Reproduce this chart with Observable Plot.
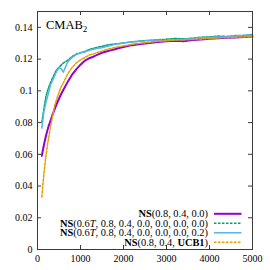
<!DOCTYPE html>
<html><head><meta charset="utf-8">
<script src="https://cdn.jsdelivr.net/npm/d3@7"></script>
<script src="https://cdn.jsdelivr.net/npm/@observablehq/plot@0.6"></script>
<style>html,body{margin:0;padding:0;background:#fff}#chart{width:270px;height:270px}</style>
</head><body><div id="chart"></div><script>
const steps = [100,150,200,250,300,350,400,450,500,550,600,700,800,900,1000,1100,1200,1300,1400,1500,1600,1700,1800,1900,2000,2200,2400,2600,2800,3000,3200,3400,3600,3800,4000,4200,4400,4600,4800,5000];
const nsBase = [0.059,0.066,0.072,0.077,0.081,0.085,0.0885,0.092,0.095,0.098,0.1005,0.1055,0.110,0.1135,0.1165,0.119,0.1205,0.1215,0.1228,0.124,0.1248,0.1255,0.1262,0.127,0.1276,0.1288,0.1295,0.1302,0.1308,0.1312,0.1315,0.1313,0.132,0.1324,0.1328,0.1331,0.1335,0.1336,0.1339,0.1342];
const nsT00 = [0.080,0.089,0.097,0.1015,0.105,0.108,0.111,0.1135,0.1148,0.1162,0.1175,0.1192,0.1215,0.1232,0.124,0.1248,0.126,0.1268,0.1275,0.128,0.1288,0.1292,0.1295,0.1298,0.1302,0.1308,0.1315,0.1318,0.1322,0.1325,0.133,0.1328,0.1332,0.1338,0.134,0.1345,0.1343,0.1348,0.135,0.1355];
const nsT02 = [0.0765,0.087,0.093,0.098,0.1035,0.1065,0.1095,0.1125,0.1145,0.114,0.1118,0.118,0.121,0.1228,0.1238,0.1245,0.1255,0.1262,0.1268,0.1272,0.128,0.1285,0.1293,0.1297,0.1302,0.131,0.1312,0.1318,0.132,0.1318,0.1322,0.1325,0.133,0.1335,0.1338,0.134,0.134,0.1345,0.1348,0.1352];
const nsUCB = [0.033,0.048,0.060,0.069,0.077,0.084,0.091,0.095,0.099,0.1025,0.105,0.1105,0.1145,0.1175,0.1195,0.121,0.1225,0.1233,0.1243,0.125,0.126,0.1267,0.1273,0.1278,0.1283,0.1293,0.130,0.1306,0.1312,0.1316,0.132,0.1321,0.1324,0.1327,0.133,0.1333,0.1336,0.1338,0.134,0.1343];

const xTicks = [0,1000,2000,3000,4000,5000];
const yTicks = [0,0.02,0.04,0.06,0.08,0.1,0.12,0.14];
const yTickLabels = ["0","0.02","0.04","0.06","0.08","0.1","0.12","0.14"];

const titleMain = "CMAB";
const titleSub = "2";
// legend entries: segments of [text, weight, style]
const legendLabels = [
  [["NS","bold",""],["(0.8, 0.4, 0.0)","",""]],
  [["NS","bold",""],["(0.6","",""],["T","","italic"],[", 0.8, 0.4, 0.0, 0.0, 0.0, 0.0)","",""]],
  [["NS","bold",""],["(0.6","",""],["T","","italic"],[", 0.8, 0.4, 0.0, 0.0, 0.0, 0.2)","",""]],
  [["NS","bold",""],["(0.8, 0.4, ","",""],["UCB1","bold",""],[")","",""]]
];
const seriesColors = ["#9400d3","#009e73","#56b4e9","#e69f00"];
const seriesWidths = [2,1.5,1.5,1.5];
const seriesDash = [null,"2.5,1.5",null,"2.5,1.5"];
const seriesValues = [nsBase, nsT00, nsT02, nsUCB];

const W = 270, H = 270, mL = 37, mR = 18, mT = 11, mB = 21;
const innerW = W - mL - mR, innerH = H - mT - mB;
const frameColor = "#3a3a3a";

const lineMarks = seriesValues.map((vals, i) =>
  Plot.line(steps.map((t, j) => ({t, v: vals[j]})), {
    x: "t", y: "v", stroke: seriesColors[i], strokeWidth: seriesWidths[i],
    strokeDasharray: seriesDash[i]
  })
);

const plot = Plot.plot({
  width: W, height: H,
  marginLeft: mL, marginRight: mR, marginTop: mT, marginBottom: mB,
  style: {fontFamily: "'Liberation Serif', serif", fontSize: "10px", color: "#000", background: "#fff"},
  x: {domain: [0, 5000]},
  y: {domain: [0, 0.15]},
  marks: [
    Plot.axisX({ticks: xTicks, tickSize: 0, tickPadding: 5, tickFormat: d => String(d), label: null}),
    Plot.axisY({ticks: yTicks, tickSize: 0, tickPadding: 5, tickFormat: (d, i) => yTickLabels[yTicks.indexOf(d)], label: null}),
    Plot.tickX(xTicks, {x: d => d, insetTop: innerH - 4, stroke: frameColor}),
    Plot.tickX(xTicks, {x: d => d, insetBottom: innerH - 4, stroke: frameColor}),
    Plot.tickY(yTicks, {y: d => d, insetRight: innerW - 4, stroke: frameColor}),
    Plot.tickY(yTicks, {y: d => d, insetLeft: innerW - 4, stroke: frameColor}),
    ...lineMarks,
    Plot.frame({stroke: frameColor, strokeWidth: 1})
  ]
});
document.getElementById("chart").appendChild(plot);

const svg = d3.select(plot);
// title
const tt = svg.append("text").attr("x", mL + 9).attr("y", mT + 17.5)
  .attr("text-anchor", "start")
  .attr("font-family", "'Liberation Serif', serif").attr("font-size", 12.5).attr("fill", "#000");
tt.append("tspan").text(titleMain);
tt.append("tspan").attr("font-size", 9).attr("dy", 3).text(titleSub);

// legend
const xs = plot.scale("x");
const rightEdge = xs.apply(5000);
const lineX1 = rightEdge - 38, lineX2 = rightEdge - 10.5;
const textRight = lineX1 - 6;
const rowH = 9.5;
const lastRowY = mT + innerH - 6.7;
legendLabels.forEach((segs, i) => {
  const y = lastRowY - (legendLabels.length - 1 - i) * rowH;
  const t = svg.append("text").attr("x", textRight).attr("y", y).attr("dy", "0.35em")
    .attr("text-anchor", "end").attr("font-family", "'Liberation Serif', serif")
    .attr("font-size", 10.4).attr("fill", "#000");
  segs.forEach(([s, w, st]) => {
    const sp = t.append("tspan").text(s);
    if (w) sp.attr("font-weight", w);
    if (st) sp.attr("font-style", st);
  });
  svg.append("line").attr("x1", lineX1).attr("x2", lineX2).attr("y1", y).attr("y2", y)
    .attr("stroke", seriesColors[i]).attr("stroke-width", seriesWidths[i])
    .attr("stroke-dasharray", seriesDash[i]);
});
</script></body></html>
